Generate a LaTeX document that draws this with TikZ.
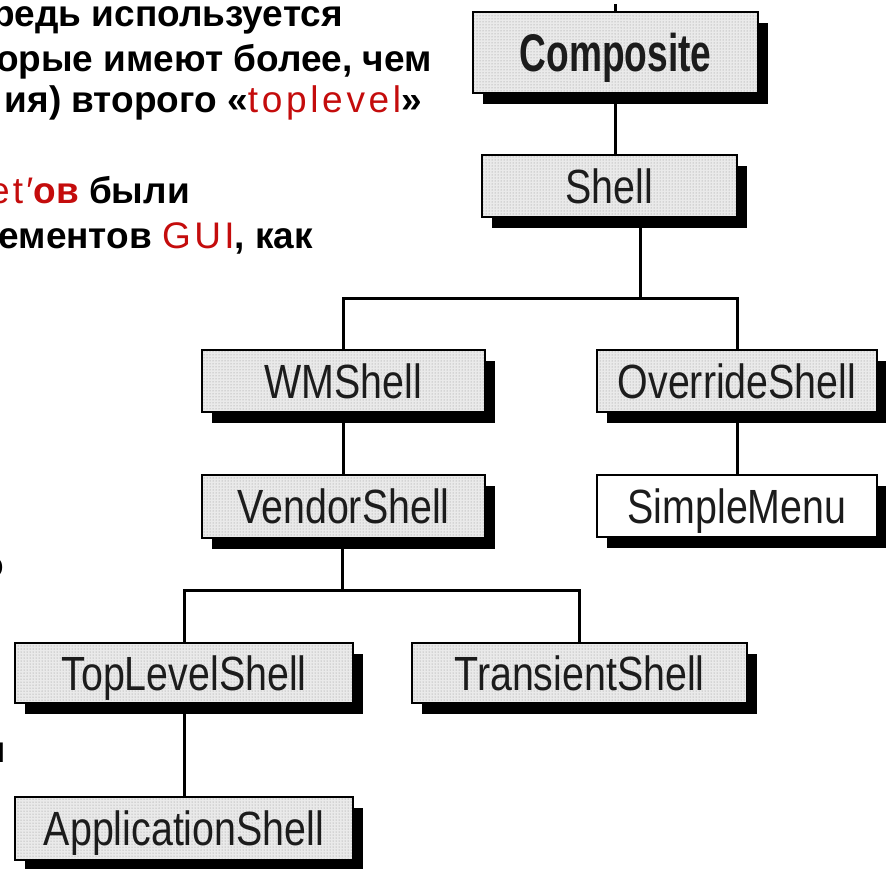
\documentclass[tikz,border=0pt]{standalone}
\usepackage{fontspec}
\usepackage{graphicx}
\setmainfont{Liberation Sans}
\usetikzlibrary{shadows,patterns,backgrounds}
\definecolor{xred}{RGB}{196,12,12}
\definecolor{boxfill}{RGB}{234,234,234}
\definecolor{boxtext}{RGB}{28,28,28}
\newcommand{\condtxt}[1]{\scalebox{0.82}[1]{#1}}
\newcommand{\condbold}[1]{\scalebox{0.70}[1]{\bfseries #1}}
\newcommand{\rr}[1]{{\mdseries\addfontfeature{LetterSpace=9}\color{xred}#1}}
\newcommand{\rrw}[1]{{\mdseries\addfontfeature{LetterSpace=10}\color{xred}#1}}
\newcommand{\rb}[1]{{\bfseries\color{xred}#1}}
\tikzset{
  classbox/.style={draw=black, line width=2pt, inner sep=0pt,
    drop shadow={shadow xshift=10pt, shadow yshift=-11pt, fill=black, opacity=1},
    preaction={fill=boxfill},
    preaction={pattern=dots, pattern color=black!45},
    text=boxtext, font=\fontsize{48}{50}\selectfont,
    text height=34pt, text depth=0pt, minimum height=62pt},
  plainbox/.style={draw=black, line width=2pt, inner sep=0pt,
    drop shadow={shadow xshift=10pt, shadow yshift=-11pt, fill=black, opacity=1},
    fill=white,
    text=boxtext, font=\fontsize{48}{50}\selectfont,
    text height=34pt, text depth=0pt, minimum height=62pt},
  conn/.style={draw=black, line width=3pt, line cap=rect, line join=miter},
  txt/.style={anchor=base east, inner sep=0pt,
    font=\fontsize{37}{44}\selectfont\bfseries, text=black}
}
\begin{document}
\begin{tikzpicture}[x=1pt,y=-1pt]
\useasboundingbox (0,0) rectangle (886,868);
\clip (0,0) rectangle (886,868);

% text on the left
\node[txt] (t1) at (343,26) {редь используется};
\node[txt] (t2) at (432,71) {орые имеют более, чем};
\node[txt] (t3) at (422,112) {ия) второго «\rrw{toplevel}»};
\node[txt] (t4) at (190,203) {\rr{et′}\rb{ов} были};
\node[txt] (t5) at (313,248) {ементов \rr{GUI}, как};
\node[txt] (t6) at (4,577) {о};
\node[txt] (t7) at (6,762) {н};

% class boxes
\node[classbox, minimum width=285pt, minimum height=81pt, text height=38pt,
      font=\fontsize{53}{55}\selectfont] (C) at (615.5,52.5) {\condbold{Composite}};
\node[classbox, minimum width=255pt] (Sh) at (609.5,186) {\condtxt{Shell}};
\node[classbox, minimum width=283pt] (WM) at (343.5,381) {\condtxt{WMShell}};
\node[classbox, minimum width=283pt, minimum height=63pt] (VS) at (343.5,506.5) {\condtxt{VendorShell}};
\node[classbox, minimum width=280pt] (OV) at (737,381) {\condtxt{OverrideShell}};
\node[plainbox, minimum width=280pt] (SM) at (737,506) {\condtxt{SimpleMenu}};
\node[classbox, minimum width=338pt, minimum height=60pt] (TL) at (184,673) {\condtxt{TopLevelShell}};
\node[classbox, minimum width=335pt, minimum height=60pt] (TR) at (579.5,673) {\condtxt{TransientShell}};
\node[classbox, minimum width=338pt, minimum height=63pt] (AP) at (184,828.5) {\condtxt{ApplicationShell}};

\coordinate (stub) at (615.5,5);
\coordinate (j1) at (640,298);
\coordinate (j2) at (342,590);

\begin{scope}[on background layer]
\draw[conn] (stub) -- (C.north);
\draw[conn] (C.south) -- (Sh.north -| C.south);
\draw[conn] (Sh.south -| j1) -- (j1);
\draw[conn] (WM.north) |- (OV.north |- j1) -- (OV.north);
\draw[conn] (WM.south) -- (VS.north);
\draw[conn] (OV.south) -- (SM.north);
\draw[conn] (VS.south -| j2) -- (j2);
\draw[conn] (TL.north) |- (TR.north |- j2) -- (TR.north);
\draw[conn] (TL.south) -- (AP.north);
\end{scope}
\end{tikzpicture}
\end{document}
